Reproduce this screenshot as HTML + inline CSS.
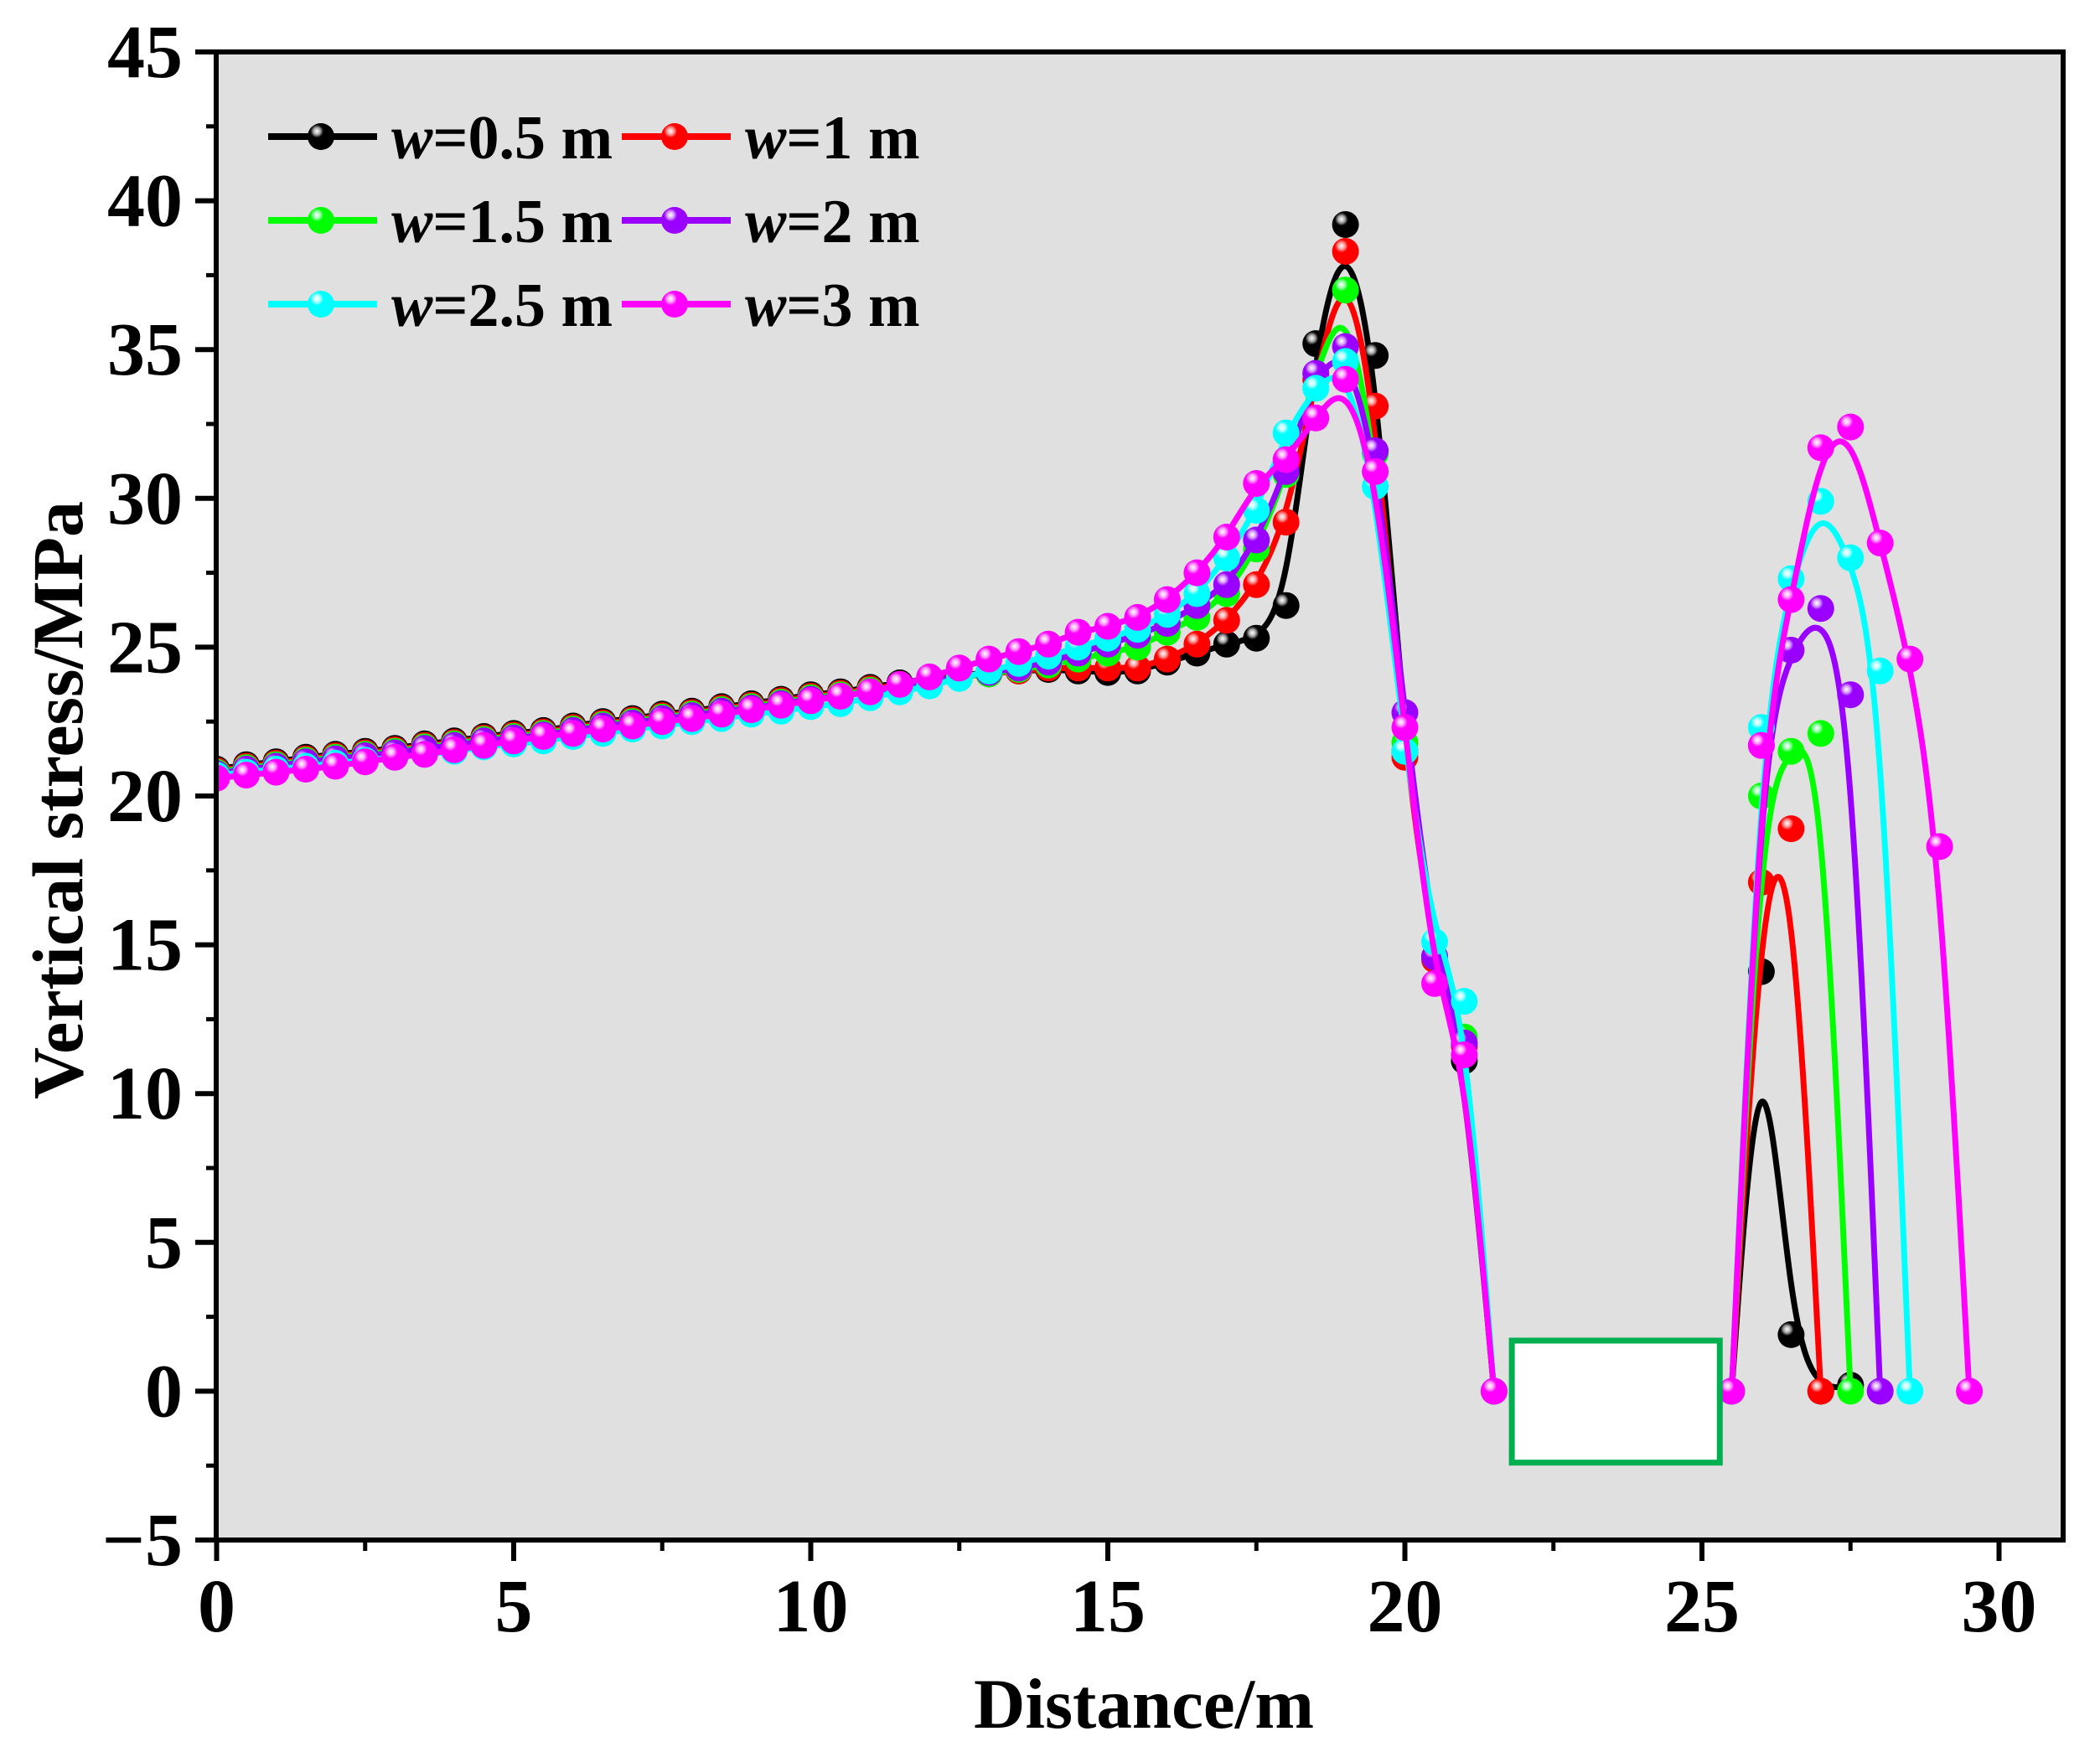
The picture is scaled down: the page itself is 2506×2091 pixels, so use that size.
<!DOCTYPE html>
<html><head><meta charset="utf-8">
<style>
html,body{margin:0;padding:0;background:#fff;}
svg{display:block;}
text{font-family:"Liberation Serif","DejaVu Serif",serif;font-weight:bold;fill:#000;}
</style></head>
<body>
<svg id="chart" width="2506" height="2091" viewBox="0 0 2506 2091" xmlns="http://www.w3.org/2000/svg">
<defs>
<radialGradient id="gBlack" cx="0.35" cy="0.3" r="0.7"><stop offset="0" stop-color="#fff"/><stop offset="0.18" stop-color="#aaa"/><stop offset="0.35" stop-color="#000"/><stop offset="1" stop-color="#000"/></radialGradient>
<radialGradient id="gRed" cx="0.35" cy="0.3" r="0.7"><stop offset="0" stop-color="#fff"/><stop offset="0.18" stop-color="#ff9a9a"/><stop offset="0.35" stop-color="#ff0000"/><stop offset="1" stop-color="#ff0000"/></radialGradient>
<radialGradient id="gGreen" cx="0.35" cy="0.3" r="0.7"><stop offset="0" stop-color="#fff"/><stop offset="0.18" stop-color="#9affb0"/><stop offset="0.35" stop-color="#00ff00"/><stop offset="1" stop-color="#00ff00"/></radialGradient>
<radialGradient id="gPurple" cx="0.35" cy="0.3" r="0.7"><stop offset="0" stop-color="#fff"/><stop offset="0.18" stop-color="#d9a0ff"/><stop offset="0.35" stop-color="#9900ff"/><stop offset="1" stop-color="#9900ff"/></radialGradient>
<radialGradient id="gCyan" cx="0.35" cy="0.3" r="0.7"><stop offset="0" stop-color="#fff"/><stop offset="0.18" stop-color="#b0ffff"/><stop offset="0.35" stop-color="#00ffff"/><stop offset="1" stop-color="#00ffff"/></radialGradient>
<radialGradient id="gMagenta" cx="0.35" cy="0.3" r="0.7"><stop offset="0" stop-color="#fff"/><stop offset="0.18" stop-color="#ffa0ff"/><stop offset="0.35" stop-color="#ff00ff"/><stop offset="1" stop-color="#ff00ff"/></radialGradient>
<clipPath id="plotClip"><rect x="258" y="62" width="2204" height="1776"/></clipPath>
</defs>
<rect x="258" y="62" width="2204" height="1776" fill="#e0e0e0"/>
<g id="series" clip-path="url(#plotClip)"></g>
<rect id="roadway" fill="#fff" stroke="#00b050" stroke-width="7"/>
<g id="axes"></g>
<text x="1365" y="2062" font-size="85" text-anchor="middle">Distance/m</text>
<text transform="translate(98,955) rotate(-90)" font-size="86" text-anchor="middle">Vertical stress/MPa</text>
<g id="legend"></g>
</svg>
<script>
// ---- data ----
const xLeft = [0,0.5,1,1.5,2,2.5,3,3.5,4,4.5,5,5.5,6,6.5,7,7.5,8,8.5,9,9.5,10,10.5,11,11.5,12,12.5,13,13.5,14,14.5,15,15.5,16,16.5,17,17.5,18,18.5,19,19.5,20,20.5,21,21.5];
const w05Left = [20.9,21.05,21.15,21.3,21.4,21.5,21.6,21.75,21.85,22.0,22.1,22.2,22.35,22.5,22.6,22.75,22.85,23.0,23.1,23.25,23.4,23.5,23.65,23.8,23.95,24.05,24.15,24.2,24.25,24.2,24.15,24.2,24.5,24.8,25.1,25.3,26.4,35.2,39.2,34.8,21.5,14.6,11.1,0];
const w1Left = [20.85,21.0,21.1,21.25,21.35,21.45,21.55,21.7,21.8,21.95,22.05,22.15,22.3,22.45,22.55,22.7,22.8,22.95,23.05,23.2,23.35,23.45,23.6,23.75,23.9,24.0,24.1,24.2,24.3,24.3,24.3,24.3,24.6,25.1,25.9,27.1,29.2,34.0,38.3,33.1,21.3,14.5,11.6,0];
const w15Left = [20.8,20.95,21.05,21.2,21.3,21.4,21.5,21.65,21.75,21.9,22.0,22.1,22.25,22.4,22.5,22.65,22.75,22.9,23.0,23.15,23.3,23.4,23.55,23.7,23.85,24.0,24.1,24.25,24.4,24.6,24.8,25.0,25.5,26.0,26.8,28.3,30.8,34.2,37.0,31.5,21.8,14.6,11.9,0];
const w2Left = [20.75,20.9,21.0,21.15,21.25,21.35,21.45,21.6,21.7,21.85,21.95,22.05,22.2,22.35,22.45,22.6,22.7,22.85,22.95,23.1,23.25,23.35,23.5,23.65,23.85,24.0,24.15,24.3,24.5,24.8,25.1,25.4,25.8,26.4,27.1,28.6,30.9,34.2,35.1,31.6,22.8,14.6,11.7,0];
const w25Left = [20.7,20.8,20.9,21.0,21.1,21.2,21.3,21.4,21.5,21.65,21.75,21.85,22.0,22.1,22.25,22.35,22.5,22.6,22.75,22.85,23.0,23.1,23.3,23.5,23.7,23.95,24.2,24.45,24.7,25.0,25.3,25.6,26.1,26.8,28.0,29.6,32.2,33.7,34.6,30.4,21.5,15.1,13.1,0];
const w3Left = [20.6,20.7,20.8,20.9,21.0,21.15,21.3,21.4,21.55,21.7,21.85,22.0,22.1,22.25,22.35,22.5,22.6,22.75,22.9,23.05,23.2,23.35,23.5,23.75,24.0,24.3,24.6,24.85,25.1,25.5,25.7,26.0,26.6,27.5,28.7,30.5,31.3,32.7,34.0,30.9,22.3,13.7,11.3,0];
const xRight05 = [25.5,26,26.5,27,27.5];   const w05Right = [0,14.1,1.9,0,0.2];
const xRight1  = [25.5,26,26.5,27];        const w1Right  = [0,17.1,18.9,0];
const xRight15 = [25.5,26,26.5,27,27.5];   const w15Right = [0,20.0,21.5,22.1,0];
const xRight2  = [25.5,26,26.5,27,27.5,28]; const w2Right = [0,21.7,24.9,26.3,23.4,0];
const xRight25 = [25.5,26,26.5,27,27.5,28,28.5]; const w25Right = [0,22.3,27.3,29.9,28.0,24.2,0];
const xRight3  = [25.5,26,26.5,27,27.5,28,28.5,29,29.5]; const w3Right = [0,21.7,26.6,31.7,32.4,28.5,24.6,18.3,0];
const seriesLabels = ["w=0.5 m","w=1 m","w=1.5 m","w=2 m","w=2.5 m","w=3 m"];
const xTickLabels = [0,5,10,15,20,25,30];
const yTickLabels = [-5,0,5,10,15,20,25,30,35,40,45];
const roadwayX = [21.8,25.3];
const roadwayY = [-2.4,1.7];

// ---- scales ----
const X0=258.5, XS=70.9, YB=1838, YS=35.52;
function sx(v){return X0+v*XS;}
function sy(v){return YB-(v+5)*YS;}
const NS="http://www.w3.org/2000/svg";
function mk(tag,attrs,parent){const e=document.createElementNS(NS,tag);for(const k in attrs)e.setAttribute(k,attrs[k]);parent.appendChild(e);return e;}

const colors=["#000000","#ff0000","#00ff00","#9900ff","#00ffff","#ff00ff"];
const grads=["gBlack","gRed","gGreen","gPurple","gCyan","gMagenta"];
const slugs=["w05","w1","w15","w2","w25","w3"];
const lefts=[w05Left,w1Left,w15Left,w2Left,w25Left,w3Left];
const rightsX=[xRight05,xRight1,xRight15,xRight2,xRight25,xRight3];
const rightsY=[w05Right,w1Right,w15Right,w2Right,w25Right,w3Right];

function bspline(xs,ys){
  const P=xs.map((x,i)=>[sx(x),sy(ys[i])]);
  const Q=[P[0],P[0],...P,P[P.length-1],P[P.length-1]];
  let d="";
  for(let i=0;i+3<Q.length;i++){
    const [p0,p1,p2,p3]=[Q[i],Q[i+1],Q[i+2],Q[i+3]];
    const b0=[(p0[0]+4*p1[0]+p2[0])/6,(p0[1]+4*p1[1]+p2[1])/6];
    const b1=[(2*p1[0]+p2[0])/3,(2*p1[1]+p2[1])/3];
    const b2=[(p1[0]+2*p2[0])/3,(p1[1]+2*p2[1])/3];
    const b3=[(p1[0]+4*p2[0]+p3[0])/6,(p1[1]+4*p2[1]+p3[1])/6];
    if(i===0)d+="M"+b0[0].toFixed(1)+","+b0[1].toFixed(1);
    d+="C"+b1.map(v=>v.toFixed(1)).join(",")+" "+b2.map(v=>v.toFixed(1)).join(",")+" "+b3.map(v=>v.toFixed(1)).join(",");
  }
  return d;
}

const sg=document.getElementById("series");
for(let s=0;s<6;s++){
  const g=mk("g",{},sg);
  
  
  const parts=[[xLeft,lefts[s]],[rightsX[s],rightsY[s]]];
  parts.forEach((pp,pi)=>{
    const p=mk("path",{d:bspline(pp[0],pp[1]),fill:"none",stroke:colors[s],"stroke-width":7,"stroke-linejoin":"round"},g);
    
    
  });
  parts.forEach(pp=>{
    pp[0].forEach((x,i)=>{
      const c=mk("circle",{cx:sx(x).toFixed(1),cy:sy(pp[1][i]).toFixed(1),r:16,fill:"url(#"+grads[s]+")"},g);
      
      
    });
  });
}

// roadway box
const rb=document.getElementById("roadway");
rb.setAttribute("x",sx(roadwayX[0]));rb.setAttribute("y",sy(roadwayY[1]));
rb.setAttribute("width",sx(roadwayX[1])-sx(roadwayX[0]));rb.setAttribute("height",sy(roadwayY[0])-sy(roadwayY[1]));

// axes
const ax=document.getElementById("axes");
const frame=mk("rect",{x:258,y:62,width:2204,height:1776,fill:"none",stroke:"#000","stroke-width":6},ax);


xTickLabels.forEach(v=>{
  const x=sx(v);
  const t=mk("line",{x1:x,x2:x,y1:1838,y2:1863,stroke:"#000","stroke-width":6},ax);
  
  
  const l=mk("text",{x:x,y:1947,"font-size":90,"text-anchor":"middle"},ax);
  l.textContent=v;
  
  
  if(v<30){const m=mk("line",{x1:sx(v+2.5),x2:sx(v+2.5),y1:1838,y2:1851,stroke:"#000","stroke-width":5},ax);
  
  }
});
yTickLabels.forEach(v=>{
  const y=sy(v);
  const t=mk("line",{x1:233,x2:258,y1:y,y2:y,stroke:"#000","stroke-width":6},ax);
  
  
  const l=mk("text",{x:218,y:y+30,"font-size":90,"text-anchor":"end"},ax);
  l.textContent=v<0?"\u2212"+(-v):v;
  
  
  if(v<45){const m=mk("line",{x1:246,x2:258,y1:sy(v+2.5),y2:sy(v+2.5),stroke:"#000","stroke-width":5},ax);
  
  }
});

// legend
const lg=document.getElementById("legend");
for(let s=0;s<6;s++){
  const col=s%2, row=Math.floor(s/2);
  const lx=col?742:320, ty=163+row*100;
  const e=mk("g",{},lg);
  
  
  mk("line",{x1:lx,x2:lx+130,y1:ty,y2:ty,stroke:colors[s],"stroke-width":8},e);
  mk("circle",{cx:lx+63,cy:ty,r:16,fill:"url(#"+grads[s]+")"},e);
  const t=mk("text",{x:lx+147,y:ty+26,"font-size":74},e);
  const it=mk("tspan",{"font-style":"italic"},t); it.textContent="w";
  const rest=mk("tspan",{},t); rest.textContent=seriesLabels[s].slice(1);
}
</script>
</body></html>
